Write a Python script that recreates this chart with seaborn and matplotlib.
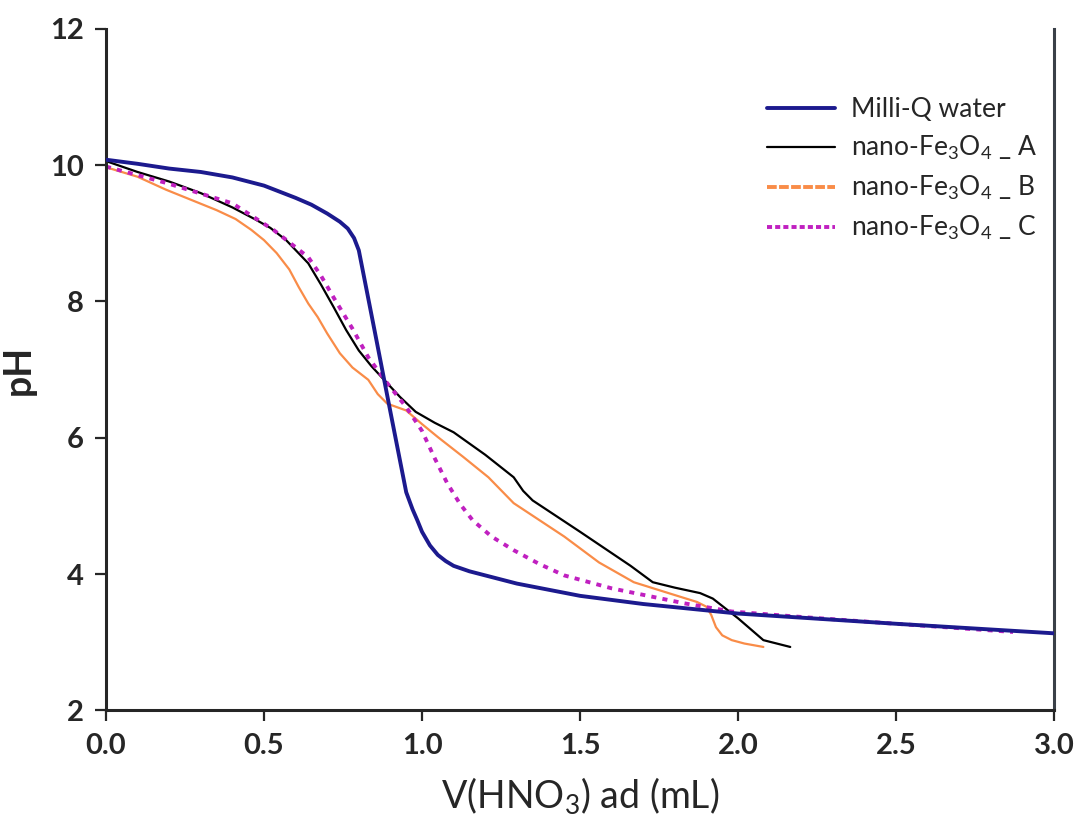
import numpy as np
import pandas as pd
import seaborn as sns
import matplotlib.pyplot as plt
from matplotlib.lines import Line2D

# titration curves
milliq_x = [0, 0.1, 0.2, 0.3, 0.4, 0.5, 0.6, 0.65, 0.7, 0.74, 0.765, 0.785, 0.8, 0.85, 0.9,
            0.95, 0.97, 0.985, 1.0, 1.025, 1.05, 1.075, 1.1, 1.15, 1.2, 1.3, 1.5, 1.7, 2.0, 2.5, 3.0]
milliq_y = [10.08, 10.02, 9.95, 9.90, 9.82, 9.70, 9.52, 9.42, 9.29, 9.17, 9.07, 8.93, 8.75,
            7.57, 6.38, 5.20, 4.95, 4.79, 4.62, 4.42, 4.28, 4.19, 4.12, 4.04, 3.98, 3.86, 3.68,
            3.56, 3.42, 3.27, 3.13]

a_x = [0, 0.1, 0.2, 0.3, 0.4, 0.47, 0.52, 0.57, 0.64, 0.68, 0.72, 0.76, 0.8, 0.84, 0.88,
       0.93, 0.98, 1.04, 1.1, 1.2, 1.29, 1.32, 1.35, 1.5, 1.66, 1.73, 1.8, 1.88, 1.92,
       2.0, 2.08, 2.165]
a_y = [10.06, 9.90, 9.76, 9.59, 9.38, 9.21, 9.08, 8.90, 8.56, 8.25, 7.92, 7.58, 7.28,
       7.05, 6.85, 6.60, 6.38, 6.22, 6.08, 5.75, 5.42, 5.22, 5.08, 4.62, 4.12, 3.88, 3.80,
       3.72, 3.64, 3.35, 3.03, 2.93]

b_x = [0, 0.1, 0.19, 0.27, 0.35, 0.41, 0.46, 0.5, 0.54, 0.58, 0.61, 0.64, 0.67, 0.7,
       0.74, 0.78, 0.83, 0.86, 0.89, 0.92, 0.95, 1.0, 1.05, 1.13, 1.21, 1.29, 1.45, 1.56,
       1.67, 1.78, 1.87, 1.90, 1.915, 1.93, 1.95, 1.98, 2.02, 2.08]
b_y = [9.97, 9.83, 9.64, 9.49, 9.34, 9.21, 9.05, 8.90, 8.71, 8.47, 8.21, 7.97, 7.77,
       7.53, 7.24, 7.03, 6.85, 6.64, 6.50, 6.45, 6.40, 6.20, 6.01, 5.72, 5.42, 5.04, 4.55,
       4.17, 3.88, 3.72, 3.59, 3.52, 3.40, 3.22, 3.10, 3.03, 2.98, 2.93]

c_x = [0, 0.19, 0.4, 0.53, 0.64, 0.68, 0.72, 0.78, 0.83, 0.89, 0.95, 1.0, 1.04, 1.08,
       1.12, 1.16, 1.22, 1.29, 1.37, 1.45, 1.6, 1.83, 1.98, 2.2, 2.5, 2.87]
c_y = [9.98, 9.74, 9.44, 9.05, 8.65, 8.38, 8.06, 7.60, 7.18, 6.80, 6.45, 6.10, 5.70, 5.33,
       5.03, 4.79, 4.55, 4.35, 4.15, 3.98, 3.79, 3.57, 3.45, 3.37, 3.27, 3.15]

labels = ['Milli-Q water', r'nano-Fe$_3$O$_4$ _ A', r'nano-Fe$_3$O$_4$ _ B', r'nano-Fe$_3$O$_4$ _ C']
colors = ['#1c1a8e', '#000000', '#f98c48', '#c020c0']

sns.set_style("ticks")
plt.rcParams['font.family'] = ['Lato', 'DejaVu Sans']
plt.rcParams['mathtext.fontset'] = 'custom'
plt.rcParams['mathtext.rm'] = 'Lato'
plt.rcParams['mathtext.it'] = 'Lato'

fig = plt.figure(figsize=(10.89, 8.25), dpi=100)
ax = fig.add_axes([0.0973, 0.139, 0.8707, 0.826])

sns.lineplot(x=milliq_x, y=milliq_y, sort=False, estimator=None, color=colors[0], lw=2.8, ax=ax)
sns.lineplot(x=a_x, y=a_y, sort=False, estimator=None, color=colors[1], lw=1.6, ax=ax)
sns.lineplot(x=b_x, y=b_y, sort=False, estimator=None, color=colors[2], lw=1.6, ax=ax)
sns.lineplot(x=c_x, y=c_y, sort=False, estimator=None, color=colors[3], lw=2.8,
             linestyle=(0, (1.3, 1.6)), ax=ax)
for ln in ax.lines:
    ln.set_solid_joinstyle('round')
ax.lines[0].set_zorder(3)

ax.set_xlim(0, 3.0)
ax.set_ylim(2, 12)
ax.set_xticks(np.arange(0, 3.01, 0.5))
ax.set_xticklabels([f"{v:.1f}" for v in np.arange(0, 3.01, 0.5)])
ax.set_yticks([2, 4, 6, 8, 10, 12])
ax.tick_params(axis='both', direction='out', length=8, width=1.6, labelsize=21, pad=8)
for lab in ax.get_xticklabels() + ax.get_yticklabels():
    lab.set_fontweight('bold')

ax.spines['top'].set_visible(False)
ax.spines['left'].set_linewidth(2.2)
ax.spines['bottom'].set_linewidth(2.2)
ax.spines['right'].set_linewidth(2.2)
ax.spines['right'].set_color('#3a4048')

ax.set_xlabel(r'V(HNO$_3$) ad (mL)', fontsize=27, labelpad=12)
ax.set_ylabel('pH', fontsize=27, fontweight='bold', labelpad=10)

handles = [
    Line2D([], [], color=colors[0], lw=2.8),
    Line2D([], [], color=colors[1], lw=1.6),
    Line2D([], [], color=colors[2], lw=2.8, linestyle=(0, (2.5, 0.6))),
    Line2D([], [], color=colors[3], lw=2.8, linestyle=(0, (1.3, 0.8))),
]
ax.legend(handles, labels, loc='upper right', bbox_to_anchor=(1.007, 0.935), frameon=False,
          fontsize=19, handlelength=2.6, labelspacing=0.45, handletextpad=0.6)

fig.savefig("out.png", dpi=100)
